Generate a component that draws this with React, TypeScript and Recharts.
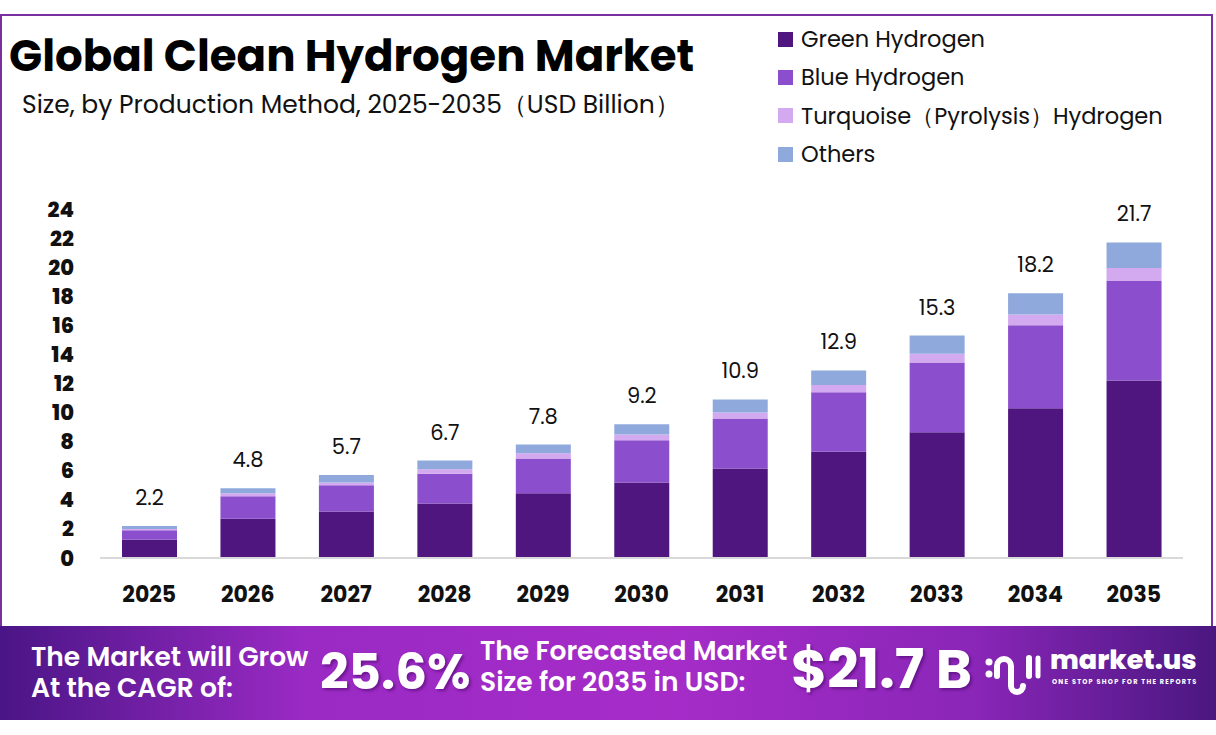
import { BarChart, Bar, XAxis, YAxis, LabelList } from 'recharts'

// values (USD Billion)
const YEARS = ['2025', '2026', '2027', '2028', '2029', '2030', '2031', '2032', '2033', '2034', '2035']
const GREEN = [1.25, 2.7, 3.2, 3.75, 4.45, 5.2, 6.15, 7.3, 8.65, 10.3, 12.2]
const BLUE = [0.65, 1.55, 1.8, 2.05, 2.4, 2.9, 3.45, 4.1, 4.8, 5.7, 6.85]
const TURQUOISE = [0.1, 0.2, 0.2, 0.3, 0.35, 0.4, 0.4, 0.5, 0.6, 0.75, 0.9]
const OTHERS = [0.2, 0.35, 0.5, 0.6, 0.6, 0.7, 0.9, 1.0, 1.25, 1.45, 1.75]
const TOTALS = [2.2, 4.8, 5.7, 6.7, 7.8, 9.2, 10.9, 12.9, 15.3, 18.2, 21.7]
const Y_TICKS = [0, 2, 4, 6, 8, 10, 12, 14, 16, 18, 20, 22, 24]

const SERIES = [
  { key: 'green', name: 'Green Hydrogen', color: '#4f1680' },
  { key: 'blue', name: 'Blue Hydrogen', color: '#8b4fcd' },
  { key: 'turquoise', name: 'Turquoise（Pyrolysis）Hydrogen', color: '#d3a9ef' },
  { key: 'others', name: 'Others', color: '#8fa9dc' },
]

const rows = YEARS.map((year, i) => ({
  year,
  green: GREEN[i],
  blue: BLUE[i],
  turquoise: TURQUOISE[i],
  others: OTHERS[i],
  total: TOTALS[i],
}))

const FONT = 'Poppins, Inter, "Open Sans", sans-serif'

function YTick({ y, payload }: any) {
  return (
    <text x={74} y={y} dy={7.5} textAnchor="end" fontSize={21} fontWeight={800} fill="#111" fontFamily={FONT}>
      {payload.value}
    </text>
  )
}

function XTick({ x, y, payload }: any) {
  return (
    <text x={x} y={y} dy={36} textAnchor="middle" fontSize={22} fontWeight={700} fill="#111" fontFamily={FONT}>
      {payload.value}
    </text>
  )
}

const footLine = { fontSize: 26.5, fontWeight: 600, lineHeight: '30px', height: 31, whiteSpace: 'nowrap' } as const

export default function App() {
  return (
    <div style={{ position: 'absolute', left: 0, top: 0, width: 1216, height: 735, background: '#fff', fontFamily: FONT, overflow: 'hidden' }}>
      {/* frame */}
      <div style={{ position: 'absolute', left: 0, top: 14, width: 1213, height: 620, border: '2px solid #7a2fa0', borderBottom: 'none', boxSizing: 'border-box' }} />

      <div style={{ position: 'absolute', left: 9, top: 23, fontSize: 43.5, fontWeight: 700, color: '#000', whiteSpace: 'nowrap' }}>
        Global Clean Hydrogen Market
      </div>
      <div style={{ position: 'absolute', left: 22, top: 86, fontSize: 25, color: '#111', whiteSpace: 'nowrap' }}>
        Size, by Production Method, 2025-2035（USD Billion）
      </div>

      {/* legend */}
      <div style={{ position: 'absolute', left: 778, top: 20 }}>
        {SERIES.map((s) => (
          <div key={s.key} style={{ display: 'flex', alignItems: 'center', height: 38.3 }}>
            <div style={{ width: 15, height: 15, background: s.color, marginRight: 8 }} />
            <span style={{ fontSize: 22.5, color: '#111', whiteSpace: 'nowrap' }}>{s.name}</span>
          </div>
        ))}
      </div>

      <div style={{ position: 'absolute', left: 0, top: 0 }}>
        <BarChart width={1216} height={620} data={rows} margin={{ top: 209, right: 33, bottom: 22, left: 20 }}>
          <XAxis dataKey="year" tick={<XTick />} tickLine={false} axisLine={{ stroke: '#d9d9d9', strokeWidth: 2 }} height={40} />
          <YAxis domain={[0, 24]} ticks={Y_TICKS} tick={<YTick />} tickLine={false} axisLine={false} width={80} />
          {SERIES.map((s) => (
            <Bar key={s.key} dataKey={s.key} name={s.name} stackId="a" fill={s.color} barSize={55} isAnimationActive={false}>
              {s.key === 'others' && (
                <LabelList dataKey="total" position="top" offset={21} fontSize={21} fill="#111" fontFamily={FONT} />
              )}
            </Bar>
          ))}
        </BarChart>
      </div>

      {/* footer band */}
      <div
        style={{
          position: 'absolute', left: 0, top: 626, width: 1216, height: 94,
          background: 'linear-gradient(90deg, #4a1586 0%, #9a2ac4 25%, #a62cc8 55%, #8a26b8 80%, #4a1780 100%)',
          color: '#fff',
        }}
      >
        <div style={{ position: 'absolute', left: 31, top: 16 }}>
          <div style={footLine}>The Market will Grow</div>
          <div style={footLine}>At the CAGR of:</div>
        </div>
        <div style={{ position: 'absolute', left: 320, top: 14, fontSize: 50, fontWeight: 700, lineHeight: '64px', whiteSpace: 'nowrap', textShadow: '2px 2px 3px rgba(60,0,90,0.5)' }}>
          25.6%
        </div>
        <div style={{ position: 'absolute', left: 480, top: 10 }}>
          <div style={footLine}>The Forecasted Market</div>
          <div style={footLine}>Size for 2035 in USD:</div>
        </div>
        <div style={{ position: 'absolute', left: 791, top: 8, fontSize: 55, fontWeight: 700, lineHeight: '70px', whiteSpace: 'nowrap', textShadow: '2px 2px 3px rgba(60,0,90,0.5)' }}>
          $21.7 B
        </div>
        <svg style={{ position: 'absolute', left: 985, top: 24 }} width={56} height={50} viewBox="0 0 56 50">
          <circle cx={4} cy={12} r={3.5} fill="#fff" />
          <circle cx={4} cy={24} r={3.5} fill="#fff" />
          <path d="M12 26 V16 a7 7 0 0 1 14 0 V36 a6 6 0 0 0 12 0" fill="none" stroke="#fff" strokeWidth={6} strokeLinecap="round" />
          <line x1={44} y1={8} x2={44} y2={26} stroke="#fff" strokeWidth={6} strokeLinecap="round" />
          <line x1={53} y1={8} x2={53} y2={26} stroke="#fff" strokeWidth={5} strokeLinecap="round" />
        </svg>
        <div style={{ position: 'absolute', left: 1050, top: 17, fontSize: 27, fontWeight: 800, lineHeight: '34px', whiteSpace: 'nowrap' }}>
          market.us
        </div>
        <div style={{ position: 'absolute', left: 1052, top: 51, fontSize: 6.5, fontWeight: 700, letterSpacing: 1.25, whiteSpace: 'nowrap' }}>
          ONE STOP SHOP FOR THE REPORTS
        </div>
      </div>
    </div>
  )
}
